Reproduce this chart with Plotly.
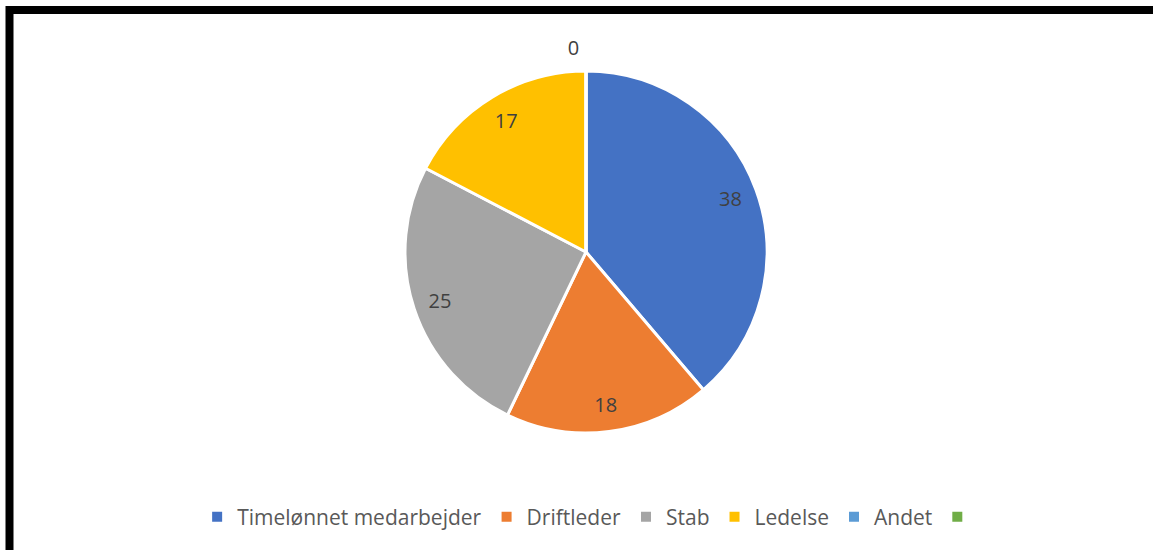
import plotly.graph_objects as go

labels = ["Timelønnet medarbejder", "Driftleder", "Stab", "Ledelse", "Andet", " "]
values = [38, 18, 25, 17, 0, 0]
colors = ["#4472C4", "#ED7D31", "#A5A5A5", "#FFC000", "#5B9BD5", "#70AD47"]
text_labels = ["38", "18", "25", "17", "0", ""]

W, H = 1153, 550
dom_x = [405 / W, 767 / W]
dom_y = [1 - 433 / H, 1 - 71 / H]
dom_x_out = [395 / W, 777 / W]
dom_y_out = [1 - 443 / H, 1 - 61 / H]

fig = go.Figure()
fig.add_trace(go.Pie(
    labels=labels, values=values, sort=False, direction="clockwise", rotation=0,
    marker=dict(colors=colors, line=dict(color="white", width=3)),
    textinfo="none", domain=dict(x=dom_x, y=dom_y), showlegend=True,
    hoverinfo="skip",
))
# inside value labels (transparent ring)
fig.add_trace(go.Pie(
    labels=labels, values=values, sort=False, direction="clockwise", rotation=0,
    hole=0.7,
    marker=dict(colors=["rgba(0,0,0,0)"] * 6, line=dict(width=0)),
    text=text_labels, textinfo="text",
    textposition=["inside", "inside", "inside", "inside", "none", "none"],
    insidetextorientation="horizontal",
    textfont=dict(family="Open Sans", size=20, color="#404040"),
    domain=dict(x=dom_x, y=dom_y), showlegend=False, hoverinfo="skip",
))
# outside label for the zero slice
fig.add_trace(go.Pie(
    labels=labels, values=values, sort=False, direction="clockwise", rotation=0,
    hole=0.99,
    marker=dict(colors=["rgba(0,0,0,0)"] * 6, line=dict(width=0)),
    text=text_labels, textinfo="text",
    textposition=["none", "none", "none", "none", "outside", "none"],
    textfont=dict(family="Open Sans", size=20, color="#404040"),
    domain=dict(x=dom_x_out, y=dom_y_out), showlegend=False, hoverinfo="skip",
))

fig.add_shape(type="rect", xref="paper", yref="paper",
              x0=9.5 / W, x1=1.02, y0=-0.02, y1=1 - 10 / H,
              line=dict(color="black", width=8), fillcolor="rgba(0,0,0,0)")

fig.update_layout(
    width=W, height=H, margin=dict(l=0, r=0, t=0, b=0),
    paper_bgcolor="white", plot_bgcolor="white",
    legend=dict(orientation="h", x=0.514, xanchor="center", y=1 - 517 / H, yanchor="middle",
                font=dict(family="Open Sans", size=21, color="#595959"),
                itemwidth=30, itemsizing="constant"),
)
fig.write_html("out.html", config={"displayModeBar": False},
               post_script="document.body.style.margin='0';document.body.style.overflow='hidden';")
